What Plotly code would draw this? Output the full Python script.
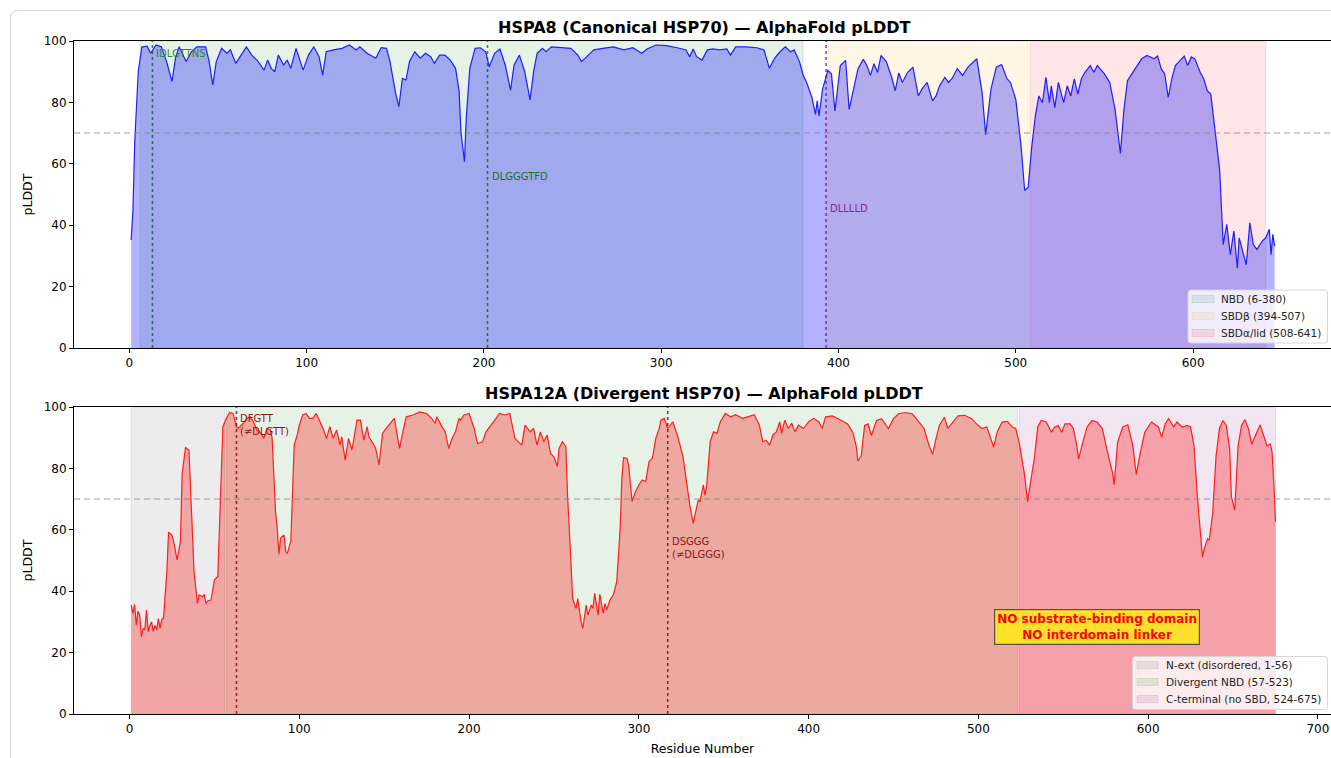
import plotly.graph_objects as go

# ---------------- data ----------------
hspa8_residue = [1, 2, 3, 4, 5, 7, 10, 12, 15, 18, 21, 24, 26, 28, 32, 35, 38, 43, 45, 47, 49, 52, 55, 57, 60, 63,
                 66, 69, 72, 76, 78, 80, 82, 84, 87, 89, 91, 94, 98, 101, 104, 107, 109, 111, 115, 120, 124, 128,
                 130, 134, 139, 142, 145, 147, 150, 152, 154, 156, 158, 161, 164, 167, 170, 172, 175, 178, 181, 184,
                 186, 187, 189, 190, 192, 195, 198, 201, 203, 206, 209, 212, 215, 217, 220, 223, 226, 228, 230, 233,
                 235, 238, 243, 249, 253, 255, 258, 262, 267, 273, 279, 284, 289, 292, 297, 303, 309, 314, 316, 318,
                 320, 323, 326, 329, 333, 337, 339, 342, 348, 354, 358, 361, 364, 367, 370, 373, 375, 378, 380, 382,
                 385, 387, 388, 389, 391, 394, 396, 398, 401, 404, 406, 409, 411, 414, 416, 418, 420, 422, 424, 427,
                 430, 432, 434, 436, 439, 442, 445, 447, 450, 453, 455, 457, 460, 462, 464, 467, 470, 473, 476, 478,
                 481, 483, 486, 489, 492, 495, 497, 500, 503, 505, 507, 509, 511, 513, 515, 517, 519, 520, 522, 524,
                 527, 529, 531, 533, 535, 537, 539, 542, 544, 546, 550, 553, 556, 559, 561, 563, 566, 569, 571, 574,
                 576, 578, 580, 582, 584, 586, 588, 590, 592, 595, 597, 599, 601, 604, 606, 608, 610, 612, 615, 617,
                 619, 621, 623, 625, 626, 628, 630, 632, 634, 636, 639, 641, 643, 644, 645, 646]
hspa8_plddt = [35.2, 45, 67, 79, 90, 98, 98.3, 96, 98.7, 98.1, 93.3, 86.8, 94.4, 98.1, 93.3, 96.5, 98.1, 98.1, 93.3,
               85.7, 93.3, 97.6, 96, 97.1, 92.7, 95.4, 98.1, 95.4, 93.8, 90.5, 93.8, 91.1, 90, 95.4, 92.2, 93.8, 91.1,
               97.6, 90.5, 95.4, 98.1, 94.9, 88.9, 96.5, 97.1, 97.6, 98.7, 97.1, 98.1, 96, 94.4, 97.8, 97.6, 93.3,
               83.5, 78.6, 87.8, 87.3, 93.3, 96.5, 94.4, 96, 94.9, 92.7, 95.4, 95.4, 93.8, 91.1, 83.5, 70.5, 60.7,
               74.8, 91.1, 97.6, 97.8, 96.5, 91.6, 96, 97.4, 92.2, 84, 92.2, 95.4, 90, 80.8, 90, 96, 97.6, 96.5,
               98.1, 97.8, 97.6, 95.4, 93.3, 94.9, 97.1, 97.6, 98.1, 97.1, 97.8, 96, 97.4, 98.7, 98.5, 97.8, 97.1,
               94.9, 97.4, 94.9, 93.8, 97.1, 97.4, 97.1, 97.4, 95.4, 98.1, 98.1, 97.8, 97.1, 91.1, 94.4, 96.5, 98.1,
               96.5, 97.1, 93.2, 89, 86.5, 81.6, 76.1, 80.5, 75.5, 84.3, 90.4, 89.3, 77.2, 92, 93.7, 77.7, 85.4, 91,
               94, 92, 88.8, 92.6, 89.8, 95.3, 93.2, 88.2, 83.8, 89.6, 86.5, 89.8, 91.5, 82.1, 84.3, 86.5, 80.5,
               82.1, 85.4, 88.2, 86.5, 87.7, 91, 88.8, 91.5, 93.2, 94.2, 83.2, 69.5, 84.3, 91.5, 92.3, 87.7, 86.5,
               81, 65.6, 51.3, 52.4, 65.6, 75.5, 82.1, 79.9, 88.2, 79.9, 85.4, 78.3, 86.5, 79.9, 85.4, 82.1, 87.7,
               82.7, 87.7, 89.8, 92, 89.8, 92, 89.3, 86.5, 77.7, 63.4, 77.7, 87.1, 89.8, 92.6, 94.2, 95.3, 94.8,
               94.2, 95.1, 91, 89.3, 81.6, 87.7, 92, 93.2, 95.1, 92, 94.8, 94.2, 89.8, 87.7, 83.8, 82.7, 72.2, 57.9,
               33.7, 40.3, 30.4, 38.1, 26, 35.9, 31.5, 27.1, 40.8, 33.7, 32.1, 34.8, 35.9, 38.7, 30.4, 37, 33.2]

hspa12a_residue = [1, 2, 3, 4, 5, 6, 7, 8, 9, 10, 11, 12, 13, 14, 15, 16, 17, 18, 19, 20, 22, 23, 25, 26, 28, 30,
                   31, 33, 35, 36, 38, 40, 41, 43, 44, 45, 46, 48, 50, 52, 53, 54, 55, 57, 59, 61, 63, 64, 67, 69,
                   71, 73, 75, 77, 79, 81, 83, 84, 85, 86, 87, 88, 89, 91, 92, 93, 95, 96, 97, 99, 100, 102, 104,
                   106, 108, 110, 112, 114, 116, 118, 120, 122, 124, 125, 127, 129, 131, 134, 136, 138, 140, 141,
                   144, 145, 147, 149, 151, 154, 156, 157, 159, 161, 163, 167, 171, 175, 178, 180, 181, 184, 186,
                   188, 190, 192, 194, 195, 197, 200, 201, 203, 205, 208, 210, 213, 215, 218, 221, 224, 227, 229,
                   231, 233, 236, 238, 240, 242, 244, 246, 248, 250, 252, 253, 255, 257, 258, 260, 261, 263, 264,
                   266, 267, 269, 270, 272, 273, 274, 276, 277, 279, 280, 281, 283, 285, 287, 289, 290, 291, 293,
                   294, 296, 298, 300, 302, 304, 306, 308, 310, 312, 313, 315, 317, 320, 323, 326, 328, 330, 332,
                   333, 335, 336, 338, 339, 340, 342, 344, 346, 348, 351, 354, 357, 361, 364, 368, 371, 373, 375,
                   377, 379, 381, 383, 384, 386, 388, 390, 392, 394, 397, 400, 403, 406, 408, 410, 414, 418, 423,
                   426, 428, 429, 431, 433, 435, 437, 440, 443, 447, 450, 453, 457, 461, 465, 468, 471, 473, 475,
                   477, 480, 482, 485, 488, 492, 496, 499, 502, 505, 507, 509, 511, 514, 517, 520, 522, 524, 527,
                   529, 531, 533, 535, 537, 540, 543, 545, 547, 549, 551, 554, 556, 558, 559, 561, 564, 567, 570,
                   573, 575, 577, 579, 580, 582, 585, 588, 591, 593, 595, 598, 602, 606, 608, 610, 612, 615, 617,
                   620, 623, 625, 627, 629, 631, 632, 633, 635, 636, 638, 640, 642, 644, 646, 648, 649, 651, 653,
                   655, 657, 659, 661, 664, 666, 668, 670, 672, 673, 674, 675]
hspa12a_plddt = [35.5, 32.8, 35.7, 28.9, 33.5, 32.2, 25.2, 27.9, 27.4, 33.9, 26.8, 28.9, 30, 26.8, 28.9, 27.4, 31.1,
                 27.9, 30.9, 31.1, 46.4, 59.2, 58.3, 56.2, 50.2, 56.2, 78.4, 86.8, 86, 71.3, 46.4, 36, 38.8, 38.2,
                 39, 36, 36.8, 37.1, 43.7, 44.8, 60.5, 75.7, 93.6, 96.3, 98.2, 97.9, 93.6, 93, 94.7, 96.3, 96.8,
                 95.2, 92.5, 91.7, 89.8, 93, 92.5, 89.8, 77.9, 66, 60.5, 52, 57.3, 58.3, 52.9, 52.4, 56.2, 75.7,
                 87.6, 91.4, 94.1, 97.4, 97.9, 96.3, 96.3, 97.9, 95.7, 93, 89.8, 93.6, 89.8, 92.5, 87.6, 90.3,
                 82.7, 89.8, 86, 95.7, 95.7, 89.2, 93.6, 90.3, 87.6, 86.5, 81.1, 91.4, 93, 95.2, 96.3, 93, 86.5,
                 91.9, 96.8, 97.4, 98.4, 97.9, 96.3, 94.7, 96.8, 93.6, 91.9, 86.5, 89.8, 91.9, 96.3, 95.7, 97.4,
                 97.9, 96.3, 93, 88.1, 88.7, 91.9, 94.1, 95.7, 97.9, 97.4, 97.9, 89.8, 88.7, 87.6, 94.1, 91.9, 93,
                 87.6, 91.9, 88.7, 90.9, 84.9, 83.8, 80.6, 86.5, 88.7, 87.1, 71.3, 49.6, 37.6, 34.4, 37.6, 30,
                 27.9, 35.5, 32.2, 35.5, 34.4, 39.3, 32.2, 39, 32.8, 36, 33.9, 37.1, 38.8, 43.1, 60.5, 76.8, 83.5,
                 83.3, 81.1, 69.2, 72.4, 74.6, 76.2, 75.7, 82.2, 83.3, 89.8, 93, 95.7, 96.3, 93, 95.2, 90.3, 83.8,
                 75.7, 68.1, 62.1, 64.8, 69.7, 69.2, 74.6, 71.3, 74.6, 88.7, 91.9, 91.4, 95.2, 97.9, 96.8, 97.5,
                 96.3, 96.8, 97.5, 94.1, 88.7, 89.2, 87.6, 90.9, 91.9, 95.2, 91.4, 95.7, 93, 94.7, 91.9, 94.1, 93,
                 95.2, 96.3, 95.2, 93, 96.8, 97.1, 96, 94.5, 91.8, 87.4, 82.4, 84.1, 94, 94.5, 90.7, 95.6, 96.2,
                 93, 96.2, 97.8, 98.2, 97.8, 95.1, 93, 87.4, 84.6, 89.6, 94, 96.7, 93, 95.1, 97.1, 97.3, 96.2,
                 94.5, 93, 93.5, 90.2, 86.9, 91.8, 95.1, 95.3, 93.5, 93, 88.5, 78.6, 69.2, 76.4, 83.5, 93.5, 95.6,
                 95.1, 91.8, 93.5, 94, 91.8, 94.5, 94.5, 93, 87.4, 83, 87.4, 93.5, 95.6, 95.1, 93, 87.4, 83, 78.6,
                 74.7, 88.5, 93.5, 94.2, 87.4, 78, 84.1, 91.8, 95.1, 93.5, 90.2, 94.5, 96.2, 93.5, 95.1, 93.5, 94,
                 93.5, 87.4, 70.8, 57.7, 51.1, 53.8, 57.1, 56.6, 65.4, 84.1, 93, 95.6, 94, 86.3, 70.8, 66.4, 87.4,
                 94, 95.9, 93, 87.9, 91.8, 94.2, 90.7, 87.4, 87.9, 85.2, 75.3, 62.6]

hspa8_domain_names = ["NBD (6-380)", "SBDβ (394-507)", "SBDα/lid (508-641)"]
hspa8_domain_start = [6, 394, 508]
hspa8_domain_end = [380, 507, 641]

hspa12a_domain_names = ["N-ext (disordered, 1-56)", "Divergent NBD (57-523)", "C-terminal (no SBD, 524-675)"]
hspa12a_domain_start = [1, 57, 524]
hspa12a_domain_end = [56, 523, 675]

hspa8_motif_labels = ["IDLGTTNS", "DLGGGTFD", "DLLLLD"]
hspa8_motif_pos = [13, 202, 393]
hspa12a_motif_labels = ["DFGTT<br>(≠DLGTT)", "DSGGG<br>(≠DLGGG)"]
hspa12a_motif_pos = [63, 317]

confidence_threshold = 70
x_ticks_top = [0, 100, 200, 300, 400, 500, 600]
x_ticks_bottom = [0, 100, 200, 300, 400, 500, 600, 700]
y_ticks = [0, 20, 40, 60, 80, 100]

# ---------------- layout geometry ----------------
W, H = 1331, 758
ML, MR, MT, MB = 74, 0, 41, 758 - 714
PH = H - MT - MB
PW = W - ML - MR
FONT = "DejaVu Sans"

hspa8_domain_fill = ["rgba(0,128,0,0.10)", "rgba(255,165,0,0.10)", "rgba(255,0,0,0.10)"]
hspa8_domain_edge = ["rgba(0,128,0,0.12)", "rgba(255,165,0,0.12)", "rgba(255,0,0,0.12)"]
hspa12a_domain_fill = ["rgba(128,128,128,0.15)", "rgba(0,128,0,0.10)", "rgba(128,0,128,0.10)"]
hspa12a_domain_edge = ["rgba(128,128,128,0.18)", "rgba(0,128,0,0.12)", "rgba(128,0,128,0.12)"]


def py2paper(py):
    """screen pixel y -> paper fraction"""
    return (H - MB - py) / PH


def px2paper(px):
    """screen pixel x -> paper fraction"""
    return (px - ML) / PW


top_dom = [py2paper(348), 1.0]
bot_dom = [0.0, py2paper(407)]

fig = go.Figure()

# domain shading (drawn first)
for s, e, fc, ec in zip(hspa8_domain_start, hspa8_domain_end, hspa8_domain_fill, hspa8_domain_edge):
    fig.add_trace(go.Scatter(x=[s, s, e, e, s], y=[0, 100, 100, 0, 0], fill="toself", fillcolor=fc,
                             mode="lines", line=dict(width=1, color=ec), showlegend=False,
                             hoverinfo="skip", xaxis="x", yaxis="y"))
for s, e, fc, ec in zip(hspa12a_domain_start, hspa12a_domain_end, hspa12a_domain_fill, hspa12a_domain_edge):
    fig.add_trace(go.Scatter(x=[s, s, e, e, s], y=[0, 100, 100, 0, 0], fill="toself", fillcolor=fc,
                             mode="lines", line=dict(width=1, color=ec), showlegend=False,
                             hoverinfo="skip", xaxis="x2", yaxis="y2"))

# pLDDT curves
fig.add_trace(go.Scatter(x=hspa8_residue, y=hspa8_plddt, mode="lines", fill="tozeroy",
                         fillcolor="rgba(0,0,255,0.30)", line=dict(color="rgb(30,30,255)", width=1.2),
                         showlegend=False, xaxis="x", yaxis="y"))
fig.add_trace(go.Scatter(x=hspa12a_residue, y=hspa12a_plddt, mode="lines", fill="tozeroy",
                         fillcolor="rgba(255,0,0,0.30)", line=dict(color="rgb(255,30,30)", width=1.2),
                         showlegend=False, xaxis="x2", yaxis="y2"))

shapes = []
# threshold lines
for xr, yr in (("x domain", "y"), ("x2 domain", "y2")):
    shapes.append(dict(type="line", xref=xr, yref=yr, x0=0, x1=1, y0=confidence_threshold,
                       y1=confidence_threshold, line=dict(color="rgba(128,128,128,0.5)", width=1.5,
                                                          dash="6px,4px")))

# motif lines
hspa8_motif_colors = ["rgba(0,100,0,0.75)", "rgba(0,100,0,0.75)", "rgba(128,0,128,0.75)"]
hspa8_text_colors = ["rgb(40,140,40)", "rgb(30,110,30)", "rgb(140,30,140)"]
hspa8_text_y = [96, 56, 45.5]
for lab, pos, lc, tc, ty in zip(hspa8_motif_labels, hspa8_motif_pos, hspa8_motif_colors,
                                 hspa8_text_colors, hspa8_text_y):
    shapes.append(dict(type="line", xref="x", yref="y", x0=pos, x1=pos, y0=0, y1=100,
                       line=dict(color=lc, width=1.6, dash="dot")))
    fig.add_annotation(x=pos, y=ty, xref="x", yref="y", text=lab, showarrow=False,
                       xanchor="left", yanchor="middle", xshift=2,
                       font=dict(family=FONT, size=10, color=tc))

hspa12a_text_y = [98.8, 58.6]
for lab, pos, ty in zip(hspa12a_motif_labels, hspa12a_motif_pos, hspa12a_text_y):
    shapes.append(dict(type="line", xref="x2", yref="y2", x0=pos, x1=pos, y0=0, y1=100,
                       line=dict(color="rgba(139,0,0,0.8)", width=1.6, dash="dot")))
    fig.add_annotation(x=pos, y=ty, xref="x2", yref="y2", text=lab, showarrow=False,
                       xanchor="left", yanchor="top", xshift=2, align="left",
                       font=dict(family=FONT, size=10, color="rgb(139,20,20)"))


# ---- legends (drawn as box + patches + labels, matplotlib style) ----
def add_legend(names, fills, edges, box_x0, box_y0, box_x1, box_y1, row_y, patch_x0, patch_x1, text_x):
    bx0, bx1 = px2paper(box_x0), px2paper(box_x1)
    by0, by1 = py2paper(box_y1), py2paper(box_y0)
    r = 3
    rx, ry = r / PW, r / PH
    p = (f"M {bx0 + rx},{by1} L {bx1 - rx},{by1} Q {bx1},{by1} {bx1},{by1 - ry} "
         f"L {bx1},{by0 + ry} Q {bx1},{by0} {bx1 - rx},{by0} L {bx0 + rx},{by0} "
         f"Q {bx0},{by0} {bx0},{by0 + ry} L {bx0},{by1 - ry} Q {bx0},{by1} {bx0 + rx},{by1} Z")
    shapes.append(dict(type="path", xref="paper", yref="paper", path=p, fillcolor="rgba(255,255,255,0.8)",
                       line=dict(color="rgb(214,214,214)", width=1), layer="above"))
    for name, fc, ec, yy in zip(names, fills, edges, row_y):
        shapes.append(dict(type="rect", xref="paper", yref="paper",
                           x0=px2paper(patch_x0), x1=px2paper(patch_x1),
                           y0=py2paper(yy + 3.5), y1=py2paper(yy - 3.5),
                           fillcolor=fc, line=dict(color=ec, width=1), layer="above"))
        fig.add_annotation(x=px2paper(text_x), y=py2paper(yy), xref="paper", yref="paper", text=name,
                           showarrow=False, xanchor="left", yanchor="middle", borderpad=0,
                           font=dict(family=FONT, size=10.5, color="rgb(30,30,30)"))


add_legend(hspa8_domain_names, hspa8_domain_fill, hspa8_domain_edge,
           1188, 290, 1327.5, 343, [299, 316, 333], 1192, 1214, 1219.5)
add_legend(hspa12a_domain_names, hspa12a_domain_fill, hspa12a_domain_edge,
           1132.5, 656.5, 1327.5, 709.5, [665, 682, 699], 1137, 1158, 1164.5)

# card border (rounded frame around the figure)
xl, yt = px2paper(10.5), py2paper(10.5)
xr_, yb = px2paper(1345), py2paper(775)
rx, ry = 8 / PW, 8 / PH
path = (f"M {xl},{yb} L {xl},{yt - ry} Q {xl},{yt} {xl + rx},{yt} L {xr_},{yt}")
shapes.append(dict(type="path", xref="paper", yref="paper", path=path,
                   line=dict(color="rgb(218,218,218)", width=1.2), layer="below"))

fig.update_layout(shapes=shapes)

# box annotation
fig.add_annotation(x=570, y=28.3, xref="x2", yref="y2",
                   text="<b>NO substrate-binding domain<br>NO interdomain linker</b>",
                   showarrow=False, font=dict(family=FONT, size=12, color="red"),
                   bgcolor="rgba(255,235,20,0.85)", bordercolor="rgba(60,60,60,0.85)", borderwidth=1.2,
                   borderpad=2, align="center")

# titles
fig.add_annotation(x=px2paper(704), y=py2paper(39), xref="paper", yref="paper",
                   text="<b>HSPA8 (Canonical HSP70) — AlphaFold pLDDT</b>", showarrow=False,
                   xanchor="center", yanchor="bottom", font=dict(family=FONT, size=16, color="black"))
fig.add_annotation(x=px2paper(704), y=py2paper(405), xref="paper", yref="paper",
                   text="<b>HSPA12A (Divergent HSP70) — AlphaFold pLDDT</b>", showarrow=False,
                   xanchor="center", yanchor="bottom", font=dict(family=FONT, size=16, color="black"))

axis_common = dict(showgrid=False, zeroline=False, showline=True, linecolor="black", linewidth=1,
                   ticks="outside", ticklen=4, tickwidth=1, tickcolor="black",
                   tickfont=dict(family=FONT, size=12, color="black"))

fig.update_layout(
    width=W, height=H, margin=dict(l=ML, r=MR, t=MT, b=MB),
    paper_bgcolor="white", plot_bgcolor="white", showlegend=False,
    font=dict(family=FONT, color="black"),
    xaxis=dict(domain=[0, 1], anchor="y", range=[-31.25, 677.8], tickvals=x_ticks_top, mirror=True,
               **axis_common),
    yaxis=dict(domain=top_dom, anchor="x", range=[0, 100], tickvals=y_ticks,
               title=dict(text="pLDDT", font=dict(family=FONT, size=12.5), standoff=8), **axis_common),
    xaxis2=dict(domain=[0, 1], anchor="y2", range=[-32.7, 707.7], tickvals=x_ticks_bottom, mirror=True,
                title=dict(text="Residue Number", font=dict(family=FONT, size=12.5), standoff=8),
                **axis_common),
    yaxis2=dict(domain=bot_dom, anchor="x2", range=[0, 100], tickvals=y_ticks,
                title=dict(text="pLDDT", font=dict(family=FONT, size=12.5), standoff=8), **axis_common),
)

# remove the default 8px page margin so the figure sits at the top-left corner of the window
fig.write_html("out.html", config={"displayModeBar": False},
               post_script="document.body.style.margin='0';document.body.style.overflow='hidden';")
